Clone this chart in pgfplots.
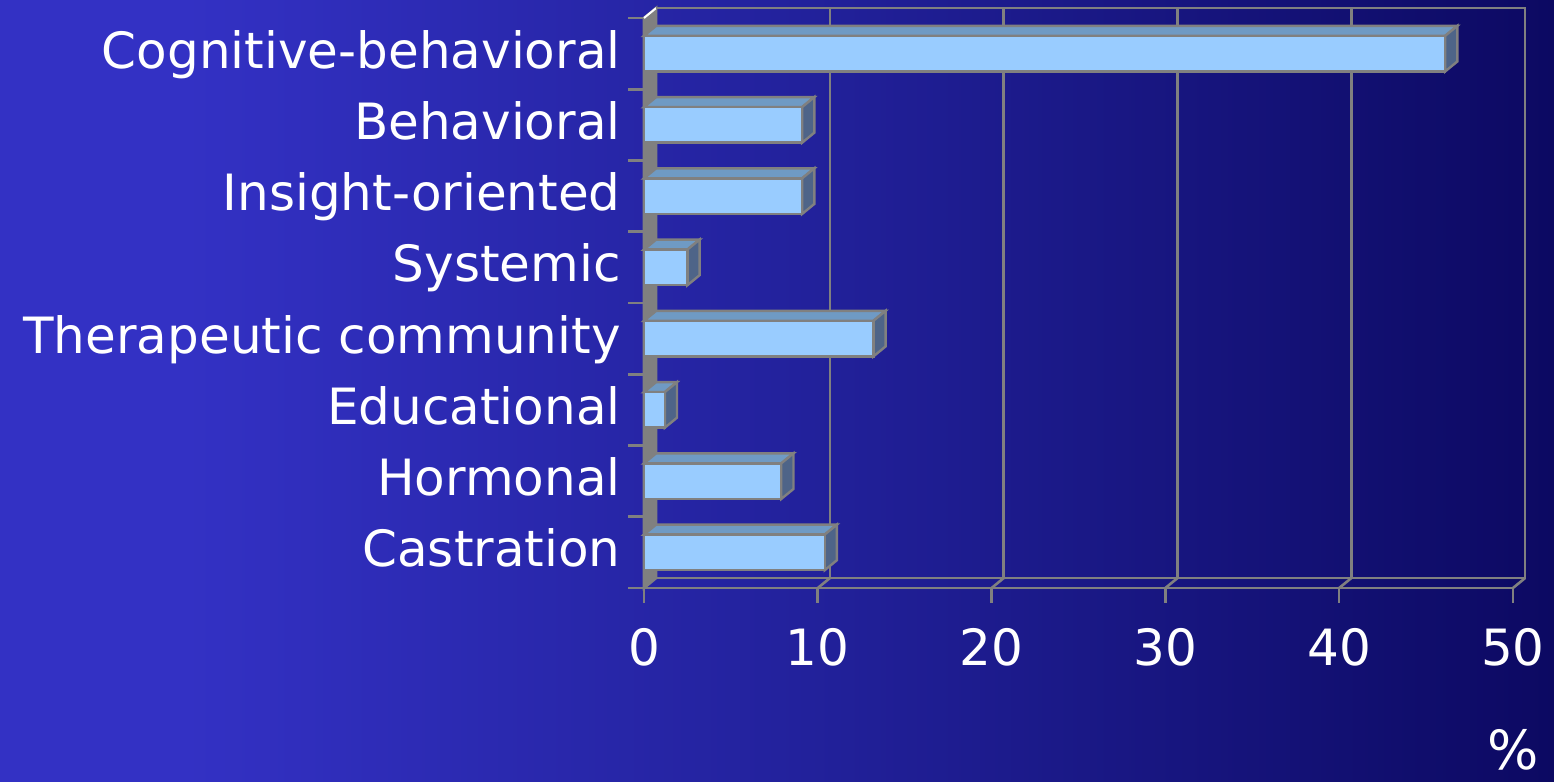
\documentclass[border=0pt]{standalone}
\usepackage{pgfplots}
\pgfplotsset{compat=1.18}
\usepackage{fontspec}
\setmainfont{DejaVu Sans}
\definecolor{bgL}{RGB}{51,49,196}
\definecolor{bgM}{RGB}{34,33,155}
\definecolor{bgR}{RGB}{12,9,98}
\definecolor{linegray}{RGB}{128,128,128}
\definecolor{barfront}{RGB}{153,204,255}
\definecolor{bartop}{RGB}{111,154,196}
\definecolor{barside}{RGB}{78,100,136}
\pgfdeclarehorizontalshading{bgshade}{100bp}{color(0bp)=(bgL); color(25bp)=(bgL); color(31bp)=(bgL); color(51bp)=(bgM); color(75bp)=(bgR); color(100bp)=(bgR)}
\begin{document}
\begin{tikzpicture}
\path[use as bounding box] (0,0) rectangle (777pt,391pt);
\shade[shading=bgshade] (0,0) rectangle (777pt,391pt);
\begin{axis}[
  at={(322pt,97pt)}, anchor=south west,
  scale only axis, width=434.5pt, height=285pt,
  xmin=0,xmax=50,ymin=0,ymax=8,
  clip=false,
  axis x line*=bottom, axis y line*=left,
  axis line style={linegray, line width=1.3pt},
  xtick={0,10,...,50},
  ytick={0.5,1.5,...,7.5},
  yticklabels={Castration,Hormonal,Educational,Therapeutic community,Systemic,Insight-oriented,Behavioral,Cognitive-behavioral},
  minor ytick={0,1,...,8},
  tick align=outside,
  major tick length=7.5pt,
  minor tick length=8pt,
  major x tick style={linegray,line width=1.3pt},
  major y tick style={draw=none},
  minor y tick style={linegray,line width=1.3pt},
  tick label style={font=\fontsize{25}{30}\selectfont, text=white},
  /pgf/number format/assume math mode=true,
  xticklabel style={anchor=base, inner sep=0pt, yshift=-31.5pt},
  yticklabel style={anchor=base east, inner sep=0pt, xshift=-4pt, yshift=-7.3pt},
  xlabel={\%},
  xlabel style={at={(axis description cs:1,0)}, anchor=base, inner sep=0pt, yshift=-91pt, font=\fontsize{27}{30}\selectfont, text=white},
]
% left wall
\addplot[fill=linegray, draw=linegray, line width=1.3pt] coordinates {(0,0) (0.7,0.14) (0.7,8.14) (0,8)} -- cycle;
\addplot[white, line width=1pt] coordinates {(0,8) (0.7,8.14)};
% back plane frame
\addplot[linegray, line width=1.3pt] coordinates {(0.7,0.14) (50.7,0.14) (50.7,8.14) (0.7,8.14)};
% gridlines on back plane
\addplot[linegray, line width=1.3pt] coordinates {(10.7,0.14) (10.7,8.14)};
\addplot[linegray, line width=1.3pt] coordinates {(20.7,0.14) (20.7,8.14)};
\addplot[linegray, line width=1.3pt] coordinates {(30.7,0.14) (30.7,8.14)};
\addplot[linegray, line width=1.3pt] coordinates {(40.7,0.14) (40.7,8.14)};
% floor connectors
\addplot[linegray, line width=1.3pt] coordinates {(10,0) (10.7,0.14)};
\addplot[linegray, line width=1.3pt] coordinates {(20,0) (20.7,0.14)};
\addplot[linegray, line width=1.3pt] coordinates {(30,0) (30.7,0.14)};
\addplot[linegray, line width=1.3pt] coordinates {(40,0) (40.7,0.14)};
\addplot[linegray, line width=1.3pt] coordinates {(50,0) (50.7,0.14)};
% bar top faces
\addplot[fill=bartop, draw=linegray, line width=1.2pt] coordinates {(0,7.75) (46.1,7.75) (46.8,7.89) (0.7,7.89)} -- cycle;
\addplot[fill=bartop, draw=linegray, line width=1.2pt] coordinates {(0,6.75) (9.1,6.75) (9.8,6.89) (0.7,6.89)} -- cycle;
\addplot[fill=bartop, draw=linegray, line width=1.2pt] coordinates {(0,5.75) (9.1,5.75) (9.8,5.89) (0.7,5.89)} -- cycle;
\addplot[fill=bartop, draw=linegray, line width=1.2pt] coordinates {(0,4.75) (2.5,4.75) (3.2,4.89) (0.7,4.89)} -- cycle;
\addplot[fill=bartop, draw=linegray, line width=1.2pt] coordinates {(0,3.75) (13.2,3.75) (13.9,3.89) (0.7,3.89)} -- cycle;
\addplot[fill=bartop, draw=linegray, line width=1.2pt] coordinates {(0,2.75) (1.2,2.75) (1.9,2.89) (0.7,2.89)} -- cycle;
\addplot[fill=bartop, draw=linegray, line width=1.2pt] coordinates {(0,1.75) (7.9,1.75) (8.6,1.89) (0.7,1.89)} -- cycle;
\addplot[fill=bartop, draw=linegray, line width=1.2pt] coordinates {(0,0.75) (10.4,0.75) (11.1,0.89) (0.7,0.89)} -- cycle;
% bar side faces
\addplot[fill=barside, draw=linegray, line width=1.2pt] coordinates {(46.1,7.25) (46.8,7.39) (46.8,7.89) (46.1,7.75)} -- cycle;
\addplot[fill=barside, draw=linegray, line width=1.2pt] coordinates {(9.1,6.25) (9.8,6.39) (9.8,6.89) (9.1,6.75)} -- cycle;
\addplot[fill=barside, draw=linegray, line width=1.2pt] coordinates {(9.1,5.25) (9.8,5.39) (9.8,5.89) (9.1,5.75)} -- cycle;
\addplot[fill=barside, draw=linegray, line width=1.2pt] coordinates {(2.5,4.25) (3.2,4.39) (3.2,4.89) (2.5,4.75)} -- cycle;
\addplot[fill=barside, draw=linegray, line width=1.2pt] coordinates {(13.2,3.25) (13.9,3.39) (13.9,3.89) (13.2,3.75)} -- cycle;
\addplot[fill=barside, draw=linegray, line width=1.2pt] coordinates {(1.2,2.25) (1.9,2.39) (1.9,2.89) (1.2,2.75)} -- cycle;
\addplot[fill=barside, draw=linegray, line width=1.2pt] coordinates {(7.9,1.25) (8.6,1.39) (8.6,1.89) (7.9,1.75)} -- cycle;
\addplot[fill=barside, draw=linegray, line width=1.2pt] coordinates {(10.4,0.25) (11.1,0.39) (11.1,0.89) (10.4,0.75)} -- cycle;
% bar front faces (values)
\addplot[xbar, bar width=0.5, bar shift=0pt, fill=barfront, draw=linegray, line width=1.2pt] coordinates {
  (46.1,7.5) (9.1,6.5) (9.1,5.5) (2.5,4.5) (13.2,3.5) (1.2,2.5) (7.9,1.5) (10.4,0.5)};
\end{axis}
\end{tikzpicture}
\end{document}
